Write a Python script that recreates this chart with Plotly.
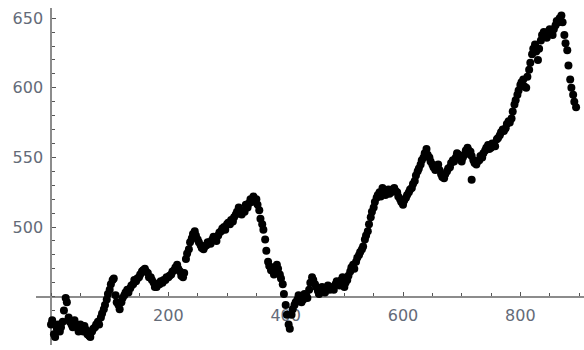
import plotly.graph_objects as go

# Daily index level, sampled every 5 trading days starting at day 0
step = 5
level = [
    430, 423, 427, 425, 432, 449, 435, 430, 433, 428,   # 0-45
    430, 425, 426, 422, 425, 428, 432, 435, 441, 448,   # 50-95
    455, 462, 451, 444, 446, 451, 455, 456, 459, 461,   # 100-145
    464, 468, 470, 467, 464, 460, 457, 459, 460, 462,   # 150-195
    464, 466, 469, 473, 468, 464, 477, 484, 492, 497,   # 200-245
    491, 487, 484, 487, 489, 491, 492, 494, 497, 500,   # 250-295
    502, 502, 504, 509, 514, 509, 511, 514, 520, 522,   # 300-345
    520, 512, 502, 491, 475, 469, 466, 473, 466, 459,   # 350-395
    444, 430, 437, 444, 448, 449, 448, 451, 455, 464,   # 400-445
    459, 454, 455, 455, 456, 455, 457, 459, 460, 462,   # 450-495
    457, 462, 468, 473, 475, 480, 484, 491, 497, 507,   # 500-545
    514, 521, 525, 528, 523, 527, 525, 528, 525, 520,   # 550-595
    516, 521, 525, 528, 533, 540, 545, 550, 556, 550,   # 600-645
    545, 541, 545, 538, 535, 540, 543, 548, 550, 552,   # 650-695
    547, 552, 557, 554, 548, 545, 548, 550, 555, 559,   # 700-745
    557, 559, 563, 566, 570, 571, 576, 578, 588, 595,   # 750-795
    602, 606, 600, 613, 624, 631, 620, 634, 640, 636,   # 800-845
    642, 638, 645, 647, 652, 638, 627, 606, 595, 586,   # 850-895
]
day = [i * step for i in range(len(level))]

# Readings taken two days after each of the above (days 2, 7, 12, ...)
level_b = [
    433, 421, 430, 428, 440, 446, 432, 428, 430, 425,   # 2-47
    427, 429, 423, 421, 427, 430, 430, 438, 444, 452,   # 52-97
    459, 463, 446, 441, 449, 453, 453, 458, 462, 463,   # 102-147
    466, 469, 468, 464, 462, 457, 459, 461, 462, 464,   # 152-197
    465, 468, 471, 470, 465, 467, 481, 489, 495, 494,   # 202-247
    489, 485, 486, 489, 488, 493, 490, 496, 499, 498,   # 252-297
    503, 505, 507, 511, 512, 511, 516, 517, 518, 519,   # 302-347
    516, 506, 498, 483, 472, 471, 469, 470, 463, 452,   # 352-397
    437, 427, 441, 446, 451, 446, 452, 449, 460, 462,   # 402-447
    457, 452, 457, 453, 458, 456, 455, 461, 458, 464,   # 452-497
    460, 465, 471, 470, 478, 482, 486, 494, 502, 511,   # 502-547
    518, 523, 522, 526, 525, 524, 527, 526, 522, 518,   # 552-597
    519, 523, 527, 531, 537, 542, 548, 553, 552, 547,   # 602-647
    543, 544, 541, 536, 538, 542, 546, 547, 553, 549,   # 652-697
    550, 555, 555, 551, 546, 547, 551, 553, 557, 556,   # 702-747
    560, 558, 564, 568, 569, 574, 575, 583, 591, 598,   # 752-797
    604, 601, 608, 618, 628, 626, 628, 638, 637, 640,   # 802-847
    641, 642, 648, 650, 647, 632, 616, 600, 590,        # 852-892
]
day_b = [i * step + 2 for i in range(len(level_b))]

# isolated off-trend reading
outlier_day = [717]
outlier_level = [534]

x_ticks = [200, 400, 600, 800]
y_ticks = [500, 550, 600, 650]

W, H = 584, 350
x_range = [-25.6, 908.5]
y_range = [415.3, 657.3]
x_domain = [36 / W, 1.0]
y_domain = [5 / H, 342 / H]

# axes cross at (0, 450)
x_cross_paper = x_domain[0] + (0 - x_range[0]) / (x_range[1] - x_range[0]) * (x_domain[1] - x_domain[0])
y_cross_paper = y_domain[0] + (450 - y_range[0]) / (y_range[1] - y_range[0]) * (y_domain[1] - y_domain[0])

marker = dict(color="black", size=8, line=dict(width=0))

fig = go.Figure()
for xs, ys in ((day, level), (day_b, level_b), (outlier_day, outlier_level)):
    fig.add_trace(go.Scatter(x=xs, y=ys, mode="markers", marker=marker,
                             showlegend=False, hoverinfo="x+y", cliponaxis=False))

label_font = dict(family="DejaVu Sans", size=16, color="#646b78")

fig.update_layout(
    width=W, height=H,
    margin=dict(l=0, r=0, t=0, b=0),
    paper_bgcolor="white", plot_bgcolor="white",
    xaxis=dict(
        range=x_range, domain=x_domain, anchor="free", position=y_cross_paper,
        showgrid=False, zeroline=False,
        showline=True, linecolor="#8c8c8c", linewidth=1.5,
        tickmode="array", tickvals=x_ticks, ticktext=[str(v) for v in x_ticks],
        ticks="inside", ticklen=4, tickwidth=1, tickcolor="#555",
        minor=dict(tickmode="linear", tick0=0, dtick=50, ticks="inside",
                   ticklen=3, tickwidth=1, tickcolor="#555", showgrid=False),
        tickfont=label_font, ticklabelstandoff=4,
        layer="below traces",
    ),
    yaxis=dict(
        range=y_range, domain=y_domain, anchor="free", position=x_cross_paper,
        showgrid=False, zeroline=False,
        showline=True, linecolor="#8c8c8c", linewidth=1.5,
        tickmode="array", tickvals=y_ticks, ticktext=[str(v) for v in y_ticks],
        ticks="inside", ticklen=4, tickwidth=1, tickcolor="#555",
        minor=dict(tickmode="linear", tick0=0, dtick=10, ticks="inside",
                   ticklen=3, tickwidth=1, tickcolor="#555", showgrid=False),
        tickfont=label_font, ticklabelstandoff=4,
        layer="below traces",
    ),
)

fig.write_html("out.html")
